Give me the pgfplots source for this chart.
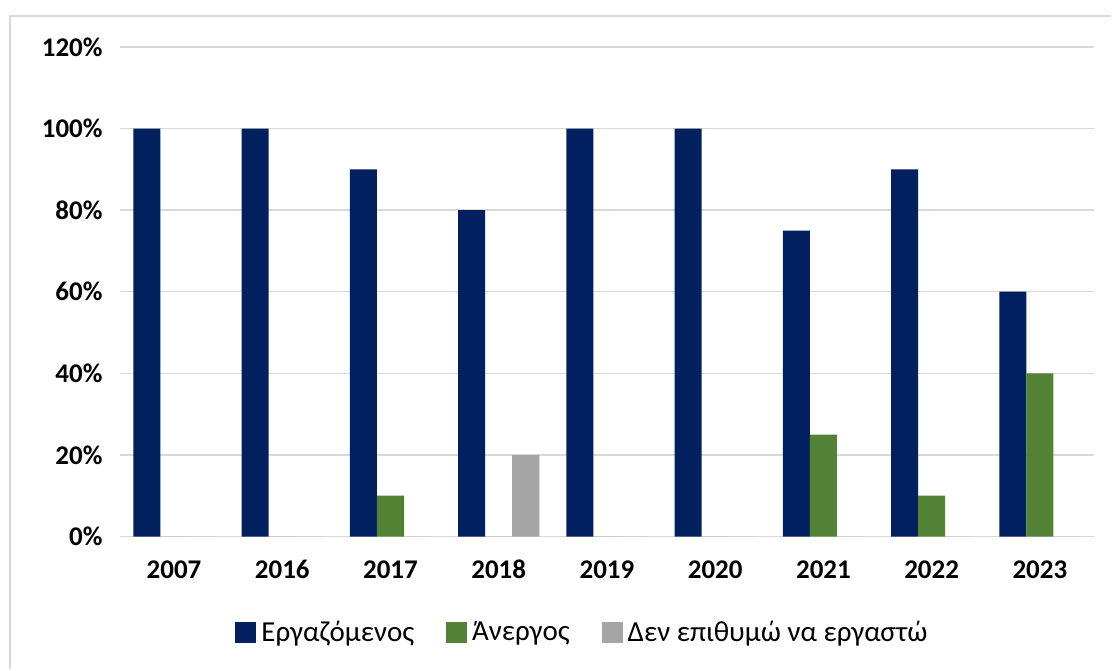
\documentclass[border=0pt]{standalone}
\usepackage{fontspec}
\setmainfont{Carlito}
\usepackage{pgfplots}
\usepackage{pgfplotstable}
\pgfplotsset{compat=1.18}

\definecolor{navy}{HTML}{002060}
\definecolor{green}{HTML}{548235}
\definecolor{grey}{HTML}{A5A5A5}
\definecolor{gridc}{HTML}{D9D9D9}

% year index, Εργαζόμενος, Άνεργος, Δεν επιθυμώ να εργαστώ
\pgfplotstableread{
x y1 y2 y3
0 100 0 0
1 100 0 0
2 90 10 0
3 80 0 20
4 100 0 0
5 100 0 0
6 75 25 0
7 90 10 0
8 60 40 0
}\data

\begin{document}
\begin{tikzpicture}
\fill[white] (0pt,0pt) rectangle (556pt,335pt);
\draw[gridc, line width=1pt] (5pt,0pt) -- (5pt,327pt) -- (556pt,327pt);
\begin{axis}[
    at={(60pt,66.5pt)}, anchor=south west,
    scale only axis,
    width=487.5pt, height=245pt,
    ybar,
    bar width=0.25,
    xmin=-0.5, xmax=8.5,
    ymin=0, ymax=120,
    xtick={0,...,8},
    xticklabels={2007,2016,2017,2018,2019,2020,2021,2022,2023},
    ytick={0,20,...,120},
    yticklabels={0\%,20\%,40\%,60\%,80\%,100\%,120\%},
    axis line style={draw=none},
    major tick length=0pt,
    ymajorgrids,
    grid style={gridc, line width=0.75pt},
    ticklabel style={font=\fontsize{13.5}{16}\selectfont\bfseries, text=black},
    yticklabel style={anchor=east, inner sep=0pt, xshift=-8.5pt},
    xticklabel style={anchor=base, inner sep=0pt, yshift=-21pt},
    legend columns=3,
    legend style={draw=none, at={(0.4764,-0.196)}, anchor=center,
        font=\fontsize{14.5}{17}\selectfont,
        /tikz/every odd column/.append style={column sep=0pt},
        /tikz/every even column/.append style={column sep=13.5pt},
        nodes={inner sep=2.5pt, text=black}},
    legend image code/.code={\fill[#1] (0pt,-5.25pt) rectangle (10.5pt,5.25pt);},
]
\addplot[fill=navy, draw=none, bar shift=-0.25] table[x=x, y=y1] {\data};
\addplot[fill=green, draw=none, bar shift=0] table[x=x, y=y2] {\data};
\addplot[fill=grey, draw=none, bar shift=0.25] table[x=x, y=y3] {\data};
\legend{Εργαζόμενος, Άνεργος, Δεν επιθυμώ να εργαστώ}
\end{axis}
\end{tikzpicture}
\end{document}
